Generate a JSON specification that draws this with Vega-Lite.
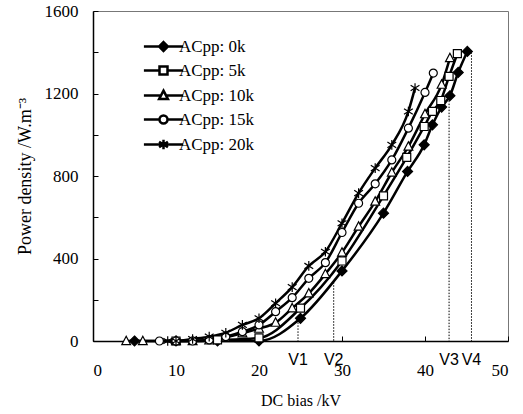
{
  "$schema": "https://vega.github.io/schema/vega-lite/v6.json",
  "width": 415,
  "height": 330,
  "autosize": {"type": "none"},
  "padding": {"left": 93, "top": 11, "right": 15, "bottom": 73},
  "background": "white",
  "config": {
    "view": {"stroke": "#777", "strokeWidth": 1},
    "font": "Liberation Serif",
    "axis": {"domainColor": "black", "domainWidth": 1.5, "tickColor": "black", "tickSize": -5, "tickWidth": 1, "grid": false,
      "labelFont": "Liberation Serif", "labelFontSize": 17, "labelColor": "black",
      "titleFont": "Liberation Serif", "titleFontSize": 16, "titleFontWeight": "normal", "titleColor": "black"}
  },
  "datasets": {
    "curves": [
      {"s": "ACpp: 0k", "v": 5, "p": 0}, {"s": "ACpp: 0k", "v": 10, "p": 0}, {"s": "ACpp: 0k", "v": 15, "p": 0}, {"s": "ACpp: 0k", "v": 20, "p": 0},
      {"s": "ACpp: 0k", "v": 25, "p": 110}, {"s": "ACpp: 0k", "v": 30, "p": 340}, {"s": "ACpp: 0k", "v": 35, "p": 620}, {"s": "ACpp: 0k", "v": 37.9, "p": 822},
      {"s": "ACpp: 0k", "v": 39.9, "p": 951}, {"s": "ACpp: 0k", "v": 40.9, "p": 1048}, {"s": "ACpp: 0k", "v": 42, "p": 1134}, {"s": "ACpp: 0k", "v": 43, "p": 1189},
      {"s": "ACpp: 0k", "v": 44, "p": 1302}, {"s": "ACpp: 0k", "v": 45.1, "p": 1404},
      {"s": "ACpp: 5k", "v": 10, "p": 0}, {"s": "ACpp: 5k", "v": 15, "p": 5}, {"s": "ACpp: 5k", "v": 20, "p": 15}, {"s": "ACpp: 5k", "v": 25, "p": 159},
      {"s": "ACpp: 5k", "v": 30, "p": 388}, {"s": "ACpp: 5k", "v": 35, "p": 704}, {"s": "ACpp: 5k", "v": 37.8, "p": 890}, {"s": "ACpp: 5k", "v": 39.9, "p": 1040},
      {"s": "ACpp: 5k", "v": 40.9, "p": 1113}, {"s": "ACpp: 5k", "v": 41.9, "p": 1166}, {"s": "ACpp: 5k", "v": 42.9, "p": 1283}, {"s": "ACpp: 5k", "v": 43.9, "p": 1393},
      {"s": "ACpp: 10k", "v": 4, "p": 0}, {"s": "ACpp: 10k", "v": 6, "p": 0}, {"s": "ACpp: 10k", "v": 10, "p": 0}, {"s": "ACpp: 10k", "v": 12, "p": 0},
      {"s": "ACpp: 10k", "v": 14, "p": 3}, {"s": "ACpp: 10k", "v": 16, "p": 18}, {"s": "ACpp: 10k", "v": 18, "p": 37}, {"s": "ACpp: 10k", "v": 20, "p": 60},
      {"s": "ACpp: 10k", "v": 22, "p": 89}, {"s": "ACpp: 10k", "v": 24, "p": 159}, {"s": "ACpp: 10k", "v": 26, "p": 231}, {"s": "ACpp: 10k", "v": 28, "p": 325},
      {"s": "ACpp: 10k", "v": 30, "p": 429}, {"s": "ACpp: 10k", "v": 32, "p": 555}, {"s": "ACpp: 10k", "v": 34, "p": 676}, {"s": "ACpp: 10k", "v": 36, "p": 817},
      {"s": "ACpp: 10k", "v": 38, "p": 943}, {"s": "ACpp: 10k", "v": 40, "p": 1100}, {"s": "ACpp: 10k", "v": 42, "p": 1243}, {"s": "ACpp: 10k", "v": 43, "p": 1372},
      {"s": "ACpp: 15k", "v": 8, "p": 0}, {"s": "ACpp: 15k", "v": 10, "p": 0}, {"s": "ACpp: 15k", "v": 12, "p": 0}, {"s": "ACpp: 15k", "v": 14, "p": 5},
      {"s": "ACpp: 15k", "v": 16, "p": 21}, {"s": "ACpp: 15k", "v": 18, "p": 45}, {"s": "ACpp: 15k", "v": 20, "p": 78}, {"s": "ACpp: 15k", "v": 22, "p": 142},
      {"s": "ACpp: 15k", "v": 24, "p": 210}, {"s": "ACpp: 15k", "v": 26, "p": 304}, {"s": "ACpp: 15k", "v": 28, "p": 380}, {"s": "ACpp: 15k", "v": 30, "p": 526},
      {"s": "ACpp: 15k", "v": 32, "p": 668}, {"s": "ACpp: 15k", "v": 34, "p": 762}, {"s": "ACpp: 15k", "v": 36, "p": 878}, {"s": "ACpp: 15k", "v": 38, "p": 1032},
      {"s": "ACpp: 15k", "v": 40, "p": 1205}, {"s": "ACpp: 15k", "v": 41, "p": 1299},
      {"s": "ACpp: 20k", "v": 9, "p": 0}, {"s": "ACpp: 20k", "v": 10, "p": 0}, {"s": "ACpp: 20k", "v": 12, "p": 10}, {"s": "ACpp: 20k", "v": 14, "p": 21},
      {"s": "ACpp: 20k", "v": 16, "p": 40}, {"s": "ACpp: 20k", "v": 18, "p": 78}, {"s": "ACpp: 20k", "v": 20, "p": 110}, {"s": "ACpp: 20k", "v": 22, "p": 183},
      {"s": "ACpp: 20k", "v": 24, "p": 261}, {"s": "ACpp: 20k", "v": 26, "p": 364}, {"s": "ACpp: 20k", "v": 28, "p": 433}, {"s": "ACpp: 20k", "v": 30, "p": 571},
      {"s": "ACpp: 20k", "v": 32, "p": 717}, {"s": "ACpp: 20k", "v": 34, "p": 838}, {"s": "ACpp: 20k", "v": 36, "p": 951}, {"s": "ACpp: 20k", "v": 38, "p": 1113},
      {"s": "ACpp: 20k", "v": 38.8, "p": 1227}
    ],
    "vlines": [
      {"name": "V1", "v": 24.7, "top": 105},
      {"name": "V2", "v": 29.0, "top": 285},
      {"name": "V3", "v": 42.9, "top": 1180},
      {"name": "V4", "v": 45.6, "top": 1400}
    ]
  },
  "layer": [
    {
      "data": {"name": "vlines"},
      "mark": {"type": "rule", "strokeDash": [1.5, 1.5], "strokeWidth": 1, "color": "black"},
      "encoding": {
        "x": {"field": "v", "type": "quantitative", "scale": {"domain": [0, 50], "nice": false}},
        "y": {"field": "top", "type": "quantitative", "scale": {"domain": [0, 1600], "nice": false}},
        "y2": {"datum": 0}
      }
    },
    {
      "data": {"name": "vlines"},
      "mark": {"type": "text", "font": "Liberation Sans", "fontSize": 16, "baseline": "top", "color": "black"},
      "encoding": {
        "x": {"field": "v", "type": "quantitative", "scale": {"domain": [0, 50], "nice": false}},
        "y": {"datum": -55, "type": "quantitative", "scale": {"domain": [0, 1600], "nice": false}},
        "text": {"field": "name"}
      }
    },
    {
      "data": {"name": "curves"},
      "mark": {"type": "line", "interpolate": "monotone", "strokeWidth": 2.5, "color": "black"},
      "encoding": {
        "x": {"field": "v", "type": "quantitative", "title": "DC bias /kV",
          "scale": {"domain": [0, 50], "nice": false},
          "axis": {"values": [0, 10, 20, 30, 40, 50], "labelPadding": 26, "titlePadding": 14}},
        "y": {"field": "p", "type": "quantitative", "title": "Power density /W.m⁻³",
          "scale": {"domain": [0, 1600], "nice": false},
          "axis": {"values": [0, 200, 400, 600, 800, 1000, 1200, 1400, 1600], "format": "d", "labelExpr": "datum.value % 400 == 0 ? datum.label : ''", "labelPadding": 20, "titlePadding": 10, "titleFontSize": 18}},
        "detail": {"field": "s"}
      }
    },
    {
      "data": {"name": "curves"},
      "mark": {"type": "point", "filled": false, "size": 64, "stroke": "black", "strokeWidth": 1.2, "opacity": 1},
      "encoding": {
        "x": {"field": "v", "type": "quantitative", "scale": {"domain": [0, 50], "nice": false}},
        "y": {"field": "p", "type": "quantitative", "scale": {"domain": [0, 1600], "nice": false}},
        "shape": {"field": "s", "type": "nominal", "legend": null,
          "scale": {"domain": ["ACpp: 0k", "ACpp: 5k", "ACpp: 10k", "ACpp: 15k", "ACpp: 20k"],
            "range": ["M0,-1.25L1.25,0L0,1.25L-1.25,0Z", "M-1,-1L1,-1L1,1L-1,1Z", "M0,-1.2L1.1,0.9L-1.1,0.9Z", "M1,0A1,1,0,1,1,-1,0A1,1,0,1,1,1,0Z", "M0,-1.2L0,1.2M-1.1,-0.7L1.1,0.7M-1.1,0.7L1.1,-0.7"]}},
        "fill": {"field": "s", "type": "nominal", "legend": null,
          "scale": {"domain": ["ACpp: 0k", "ACpp: 5k", "ACpp: 10k", "ACpp: 15k", "ACpp: 20k"], "range": ["black", "white", "white", "white", "white"]}}
      }
    },
    {
      "data": {"name": "curves"},
      "mark": {"type": "point", "filled": false, "size": 64, "stroke": "black", "strokeWidth": 2.5, "opacity": 0},
      "encoding": {
        "x": {"field": "v", "type": "quantitative", "scale": {"domain": [0, 50], "nice": false}},
        "y": {"field": "p", "type": "quantitative", "scale": {"domain": [0, 1600], "nice": false}},
        "shape": {"field": "s", "type": "nominal",
          "scale": {"domain": ["ACpp: 0k", "ACpp: 5k", "ACpp: 10k", "ACpp: 15k", "ACpp: 20k"],
            "range": ["M-4.9,0L4.9,0M0,-1.1L1.1,0L0,1.1L-1.1,0ZM0,-0.55L0.55,0L0,0.55L-0.55,0ZM0,-1.1L0,1.1",
              "M-4.9,0L-1,0M1,0L4.9,0M-1,-1L1,-1L1,1L-1,1Z",
              "M-4.9,0L-0.63,0M0.63,0L4.9,0M0,-1.2L1.1,0.9L-1.1,0.9Z",
              "M-4.9,0L-1,0M1,0L4.9,0M1,0A1,1,0,1,1,-1,0A1,1,0,1,1,1,0Z",
              "M-4.9,0L4.9,0M0,-1.2L0,1.2M-1.1,-0.7L1.1,0.7M-1.1,0.7L1.1,-0.7"]},
          "legend": {"title": null, "orient": "none", "legendX": 62, "legendY": 27, "padding": 0,
            "symbolSize": 64, "labelOffset": 7, "rowPadding": 5, "labelFont": "Liberation Serif", "labelFontSize": 17, "labelColor": "black",
            "symbolStrokeWidth": 2.5, "symbolStrokeColor": "black", "symbolFillColor": "white", "symbolOpacity": 1}
        }
      }
    }
  ],
  "resolve": {"scale": {"shape": "independent"}}
}
